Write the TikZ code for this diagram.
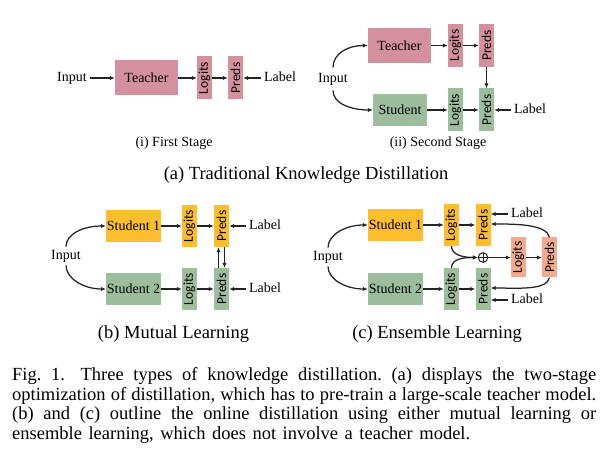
\documentclass[tikz,border=0pt]{standalone}
\usepackage{fontspec}
\setmainfont{Liberation Serif}
\newfontfamily\calfont{Carlito}
\usetikzlibrary{arrows.meta,calc}
\definecolor{tpink}{RGB}{212,144,158}
\definecolor{sgreen}{RGB}{157,190,157}
\definecolor{sorange}{RGB}{252,190,46}
\definecolor{ssalmon}{RGB}{244,170,140}
\definecolor{arrc}{RGB}{35,35,35}
\frenchspacing
\begin{document}
\begin{tikzpicture}[x=1pt,y=-1pt,
  txt/.style={font=\fontsize{14}{16}\selectfont, inner sep=0pt, text height=9.5pt, text depth=3pt},
  blk/.style={rectangle, inner sep=0pt, font=\fontsize{14}{16}\selectfont},
  tbox/.style={blk, fill=tpink, minimum width=63pt, minimum height=35pt},
  vbx/.style={rectangle, inner sep=0pt, minimum width=15pt, minimum height=43pt, font=\calfont\fontsize{13.5}{15}\selectfont},
  arr/.style={-{Latex[length=5pt,width=4.4pt]}, line width=1.25pt, draw=arrc},
  subcap/.style={font=\fontsize{14}{16}\selectfont, inner sep=0pt, anchor=base},
  bigcap/.style={font=\fontsize{18.5}{20}\selectfont, inner sep=0pt, anchor=base},
  capline/.style={font=\fontsize{18.5}{20}\selectfont, inner sep=0pt, anchor=base west}
]
\useasboundingbox (0,0) rectangle (608,454);
\fill[white] (0,0) rectangle (608,454);

% ---------- (i) First Stage ----------
\node[txt] (inA) at (72,78) {Input};
\node[tbox] (T1) at (146.5,78) {Teacher};
\node[vbx, fill=tpink] (L1) at (204.5,78) {\rotatebox{90}{Logits}};
\node[vbx, fill=tpink] (P1) at (235.5,78) {\rotatebox{90}{Preds}};
\node[txt] (lab1) at (280,78) {Label};
\draw[arr, shorten <=3pt] (inA) -- (T1);
\draw[arr] (T1) -- (L1);
\draw[arr] (L1) -- (P1);
\draw[arr, shorten <=3pt] (lab1) -- (P1);
\node[subcap] (capi) at (174,147) {(i) First Stage};

% ---------- (ii) Second Stage ----------
\node[txt] (inB) at (333,79) {Input};
\node[tbox] (T2) at (399.5,45.5) {Teacher};
\node[vbx, fill=tpink] (L2a) at (455.5,45.5) {\rotatebox{90}{Logits}};
\node[vbx, fill=tpink] (P2a) at (486.5,45.5) {\rotatebox{90}{Preds}};
\node[blk, fill=sgreen, minimum width=54pt, minimum height=32pt] (S2) at (400,110) {Student};
\node[vbx, fill=sgreen] (L2b) at (455.5,110) {\rotatebox{90}{Logits}};
\node[vbx, fill=sgreen] (P2b) at (486.5,110) {\rotatebox{90}{Preds}};
\node[txt] (lab2) at (530,110) {Label};
\draw[arr] ($(inB.north)+(0,-5)$) .. controls +(0,-14) and +(-20,0) .. (T2.west);
\draw[arr] ($(inB.south)+(0,5)$) .. controls +(0,14) and +(-20,0) .. (S2.west);
\draw[arr] (T2) -- (L2a);
\draw[arr] (L2a) -- (P2a);
\draw[arr] (S2) -- (L2b);
\draw[arr] (L2b) -- (P2b);
\draw[arr] (P2a) -- (P2b);
\draw[arr, shorten <=3pt] (lab2) -- (P2b);
\node[subcap] (capii) at (438,147) {(ii) Second Stage};

\node[bigcap] (capa) at (306,180) {(a) Traditional Knowledge Distillation};

% ---------- (b) Mutual Learning ----------
\node[txt] (inC) at (66,256) {Input};
\node[blk, fill=sorange, minimum width=55pt, minimum height=32pt] (S1b) at (133.5,226) {Student 1};
\node[vbx, fill=sorange, minimum height=42pt] (L3a) at (189.5,226) {\rotatebox{90}{Logits}};
\node[vbx, fill=sorange, minimum height=42pt] (P3a) at (221.5,226) {\rotatebox{90}{Preds}};
\node[blk, fill=sgreen, minimum width=55pt, minimum height=32pt] (S2b) at (133.5,289) {Student 2};
\node[vbx, fill=sgreen, minimum height=42pt] (L3b) at (189.5,289) {\rotatebox{90}{Logits}};
\node[vbx, fill=sgreen, minimum height=42pt] (P3b) at (221.5,289) {\rotatebox{90}{Preds}};
\node[txt] (lab3a) at (265,226) {Label};
\node[txt] (lab3b) at (265,289) {Label};
\draw[arr] ($(inC.north)+(0,-3)$) .. controls +(0,-13) and +(-22,0) .. (S1b.west);
\draw[arr] ($(inC.south)+(0,3)$) .. controls +(0,13) and +(-22,0) .. (S2b.west);
\draw[arr] (S1b) -- (L3a);
\draw[arr] (L3a) -- (P3a);
\draw[arr] (S2b) -- (L3b);
\draw[arr] (L3b) -- (P3b);
\draw[arr, shorten <=3pt] (lab3a) -- (P3a);
\draw[arr, shorten <=3pt] (lab3b) -- (P3b);
\draw[arr] ($(P3b.north)+(-3,0)$) -- ($(P3a.south)+(-3,0)$);
\draw[arr] ($(P3a.south)+(3,0)$) -- ($(P3b.north)+(3,0)$);
\node[bigcap] (capb) at (173.5,339) {(b) Mutual Learning};

% ---------- (c) Ensemble Learning ----------
\node[txt] (inD) at (328,257) {Input};
\node[blk, fill=sorange, minimum width=55pt, minimum height=32pt] (S1c) at (395.5,225) {Student 1};
\node[vbx, fill=sorange, minimum height=42pt] (L4a) at (451.5,225) {\rotatebox{90}{Logits}};
\node[vbx, fill=sorange, minimum height=42pt] (P4a) at (483,225) {\rotatebox{90}{Preds}};
\node[blk, fill=sgreen, minimum width=55pt, minimum height=32pt] (S2c) at (395.5,289) {Student 2};
\node[vbx, fill=sgreen, minimum height=42pt] (L4b) at (451.5,289) {\rotatebox{90}{Logits}};
\node[vbx, fill=sgreen, minimum height=42pt] (P4b) at (483,289) {\rotatebox{90}{Preds}};
\node[circle, draw=arrc, fill=white, line width=1pt, minimum size=9.5pt, inner sep=0pt] (plus) at (483,257.5) {};
\draw[line width=1pt, draw=arrc] (plus.north) -- (plus.south) (plus.west) -- (plus.east);
\node[vbx, fill=ssalmon, minimum height=40pt] (L4c) at (518.5,257.5) {\rotatebox{90}{Logits}};
\node[vbx, fill=ssalmon, minimum height=40pt] (P4c) at (549.5,257.5) {\rotatebox{90}{Preds}};
\node[txt] (lab4a) at (527,214) {Label};
\node[txt] (lab4b) at (527,300) {Label};
\draw[arr] ($(inD.north)+(0,-3)$) .. controls +(0,-13) and +(-22,0) .. (S1c.west);
\draw[arr] ($(inD.south)+(0,3)$) .. controls +(0,13) and +(-22,0) .. (S2c.west);
\draw[arr] (S1c) -- (L4a);
\draw[arr] (L4a) -- (P4a);
\draw[arr] (S2c) -- (L4b);
\draw[arr] (L4b) -- (P4b);
\draw[arr] (L4a.south) .. controls +(0,9) and +(-14,0) .. (plus.west);
\draw[arr] (L4b.north) .. controls +(0,-9) and +(-14,0) .. (plus.west);
\draw[arr] (plus) -- (L4c);
\draw[arr] (L4c) -- (P4c);
\draw[arr] (P4c.north) .. controls +(-3,-13) and +(26,0) .. ($(P4a.east)+(0,-1)$);
\draw[arr] (P4c.south) .. controls +(-3,13) and +(26,0) .. ($(P4b.east)+(0,-1)$);
\draw[arr, shorten <=3pt] (lab4a.west) -- (lab4a.west -| P4a.east);
\draw[arr, shorten <=3pt] (lab4b.west) -- (lab4b.west -| P4b.east);
\node[bigcap] (capc) at (437,339) {(c) Ensemble Learning};

% ---------- Figure caption ----------
\node[capline] (cl1) at (12,380.5) {\makebox[584pt][s]{Fig.~1.\hspace{6pt} Three types of knowledge distillation. (a) displays the two-stage}};
\node[capline] (cl2) at (12,400.2) {\makebox[584pt][s]{optimization of distillation, which has to pre-train a large-scale teacher model.}};
\node[capline] (cl3) at (12,419.9) {\makebox[584pt][s]{(b) and (c) outline the online distillation using either mutual learning or}};
\node[capline] (cl4) at (12,439.6) {\makebox[458pt][s]{ensemble learning, which does not involve a teacher model.}};
\end{tikzpicture}
\end{document}
